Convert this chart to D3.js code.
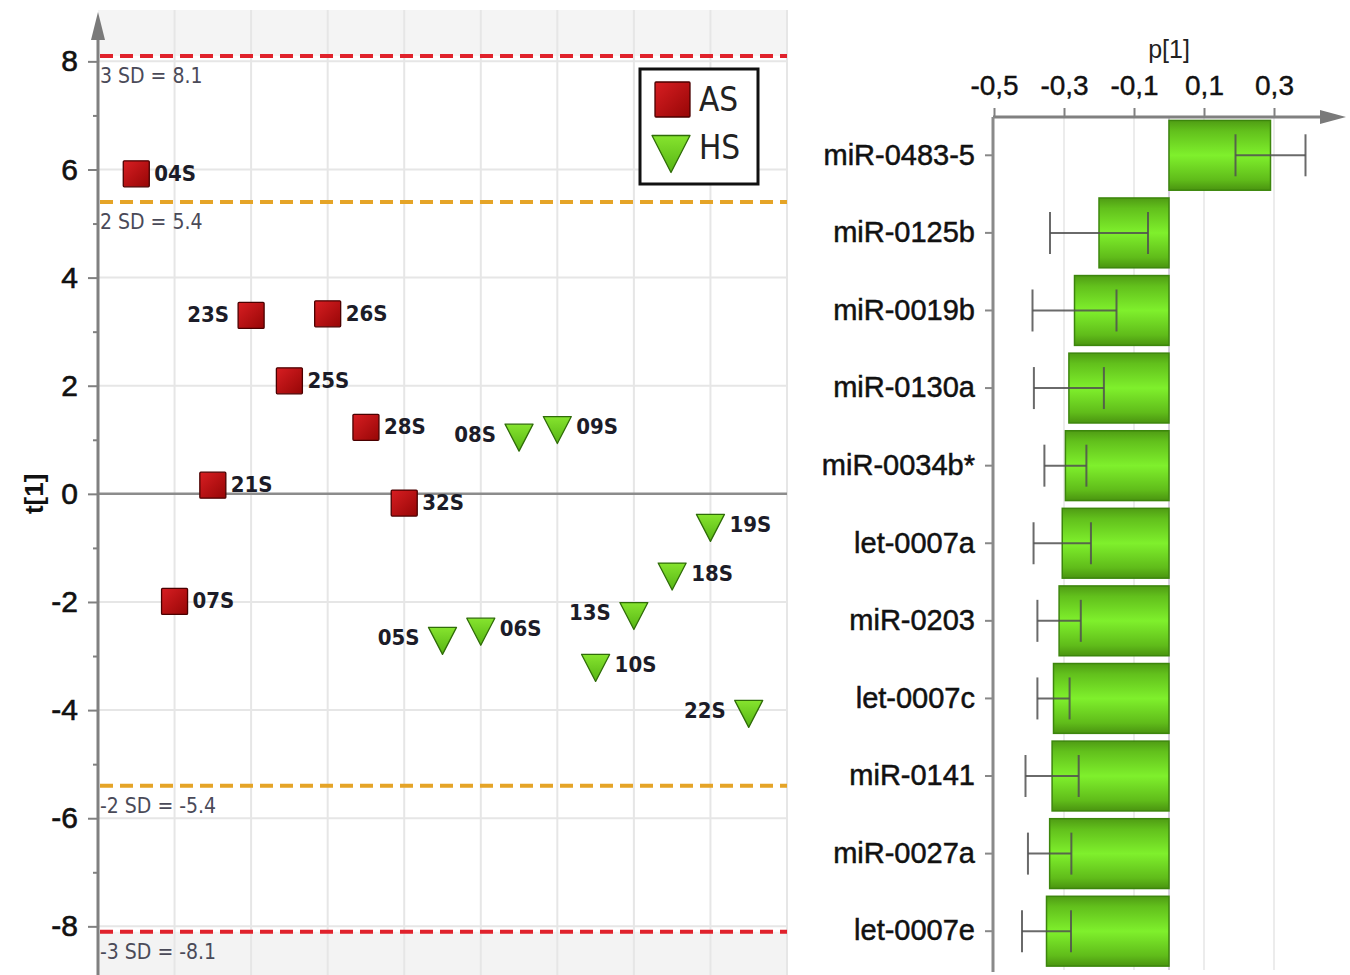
<!DOCTYPE html>
<html>
<head>
<meta charset="utf-8">
<script src="https://cdn.jsdelivr.net/npm/d3@7"></script>
<style>
  html, body { margin: 0; padding: 0; background: #fff; }
  svg { display: block; }
</style>
</head>
<body>
<svg id="chart" width="1350" height="975"></svg>
<script>
// ---- Score plot t[1]: samples in plotting order ----
const asSamples   = ["04S", "07S", "21S", "23S", "25S", "26S", "28S", "32S"];
const asIndex     = [1, 2, 3, 4, 5, 6, 7, 8];
const asScores    = [5.92, -1.99, 0.16, 3.30, 2.09, 3.33, 1.23, -0.17];
const asLabelSide = ["r", "r", "r", "l", "r", "r", "r", "r"];

const hsSamples   = ["05S", "06S", "08S", "09S", "10S", "13S", "18S", "19S", "22S"];
const hsIndex     = [9, 10, 11, 12, 13, 14, 15, 16, 17];
const hsScores    = [-2.72, -2.55, 1.04, 1.18, -3.22, -2.26, -1.53, -0.63, -4.07];
const hsLabelSide = ["l", "r", "l", "r", "r", "l", "r", "r", "l"];

const sdLevels = [8.1, 5.4, -5.4, -8.1];
const sdLabels = ["3 SD = 8.1", "2 SD = 5.4", "-2 SD = -5.4", "-3 SD = -8.1"];
const scoreTicks = [-8, -6, -4, -2, 0, 2, 4, 6, 8];
const scoreMinorTicks = [-7, -5, -3, -1, 1, 3, 5, 7];
const groupNames = ["AS", "HS"];

// ---- Loading plot p[1] ----
const mirnas = ["miR-0483-5", "miR-0125b", "miR-0019b", "miR-0130a", "miR-0034b*",
                "let-0007a", "miR-0203", "let-0007c", "miR-0141", "miR-0027a", "let-0007e"];
const loadings   = [0.29, -0.20, -0.27, -0.286, -0.296, -0.305, -0.314, -0.33, -0.334, -0.341, -0.35];
const loadingCI  = [0.10, 0.14, 0.12, 0.10, 0.06, 0.082, 0.062, 0.046, 0.076, 0.062, 0.07];
const loadingTicks = [-0.5, -0.3, -0.1, 0.1, 0.3];

const svg = d3.select("#chart");
const loc = d3.formatLocale({ decimal: ",", thousands: ".", grouping: [3], currency: ["", ""], minus: "-" });
const fmtP = loc.format(".1f");
const fmtT = loc.format("d");

// ---- gradients ----
const defs = svg.append("defs");
const redGrad = defs.append("linearGradient").attr("id", "redGrad")
  .attr("x1", 0).attr("y1", 0).attr("x2", 1).attr("y2", 1);
redGrad.append("stop").attr("offset", "0%").attr("stop-color", "#d81e22");
redGrad.append("stop").attr("offset", "100%").attr("stop-color", "#960606");

const triGrad = defs.append("linearGradient").attr("id", "triGrad")
  .attr("x1", 0).attr("y1", 0).attr("x2", 0).attr("y2", 1);
triGrad.append("stop").attr("offset", "0%").attr("stop-color", "#86e42e");
triGrad.append("stop").attr("offset", "100%").attr("stop-color", "#56b414");

const barGrad = defs.append("linearGradient").attr("id", "barGrad")
  .attr("x1", 0).attr("y1", 0).attr("x2", 0).attr("y2", 1);
[["0%", "#4f9c14"], ["15%", "#62c01c"], ["50%", "#7ff02c"], ["85%", "#60bc1a"], ["100%", "#4a9410"]]
  .forEach(([o, c]) => barGrad.append("stop").attr("offset", o).attr("stop-color", c));

// =========================== Score plot ===========================
const x = d3.scaleLinear().domain([0, 18]).range([98, 787]);
const y = d3.scaleLinear().domain([-8.9, 8.95]).range([975, 10]);
const left = svg.append("g");

// shaded zones beyond +/- 3 SD
left.append("rect").attr("x", x(0)).attr("y", y(8.95))
  .attr("width", x(18) - x(0)).attr("height", y(8.1) - y(8.95)).attr("fill", "#f4f4f4");
left.append("rect").attr("x", x(0)).attr("y", y(-8.1))
  .attr("width", x(18) - x(0)).attr("height", y(-8.9) - y(-8.1)).attr("fill", "#f3f3f3");

// grid
left.append("g").selectAll("line").data(d3.range(2, 19, 2)).join("line")
  .attr("x1", d => x(d)).attr("x2", d => x(d))
  .attr("y1", y(8.95)).attr("y2", y(-8.9))
  .attr("stroke", "#e6e6e6").attr("stroke-width", 2);
left.append("g").selectAll("line").data(scoreTicks.filter(d => d !== 0)).join("line")
  .attr("x1", x(0)).attr("x2", x(18))
  .attr("y1", d => y(d)).attr("y2", d => y(d))
  .attr("stroke", "#e6e6e6").attr("stroke-width", 2);

// zero line
left.append("line").attr("x1", x(0)).attr("x2", x(18))
  .attr("y1", y(0)).attr("y2", y(0))
  .attr("stroke", "#8c8c8c").attr("stroke-width", 2.5);

// SD limits
left.append("g").selectAll("line").data(sdLevels).join("line")
  .attr("x1", x(0) + 2).attr("x2", x(18))
  .attr("y1", d => y(d)).attr("y2", d => y(d))
  .attr("stroke", d => Math.abs(d) > 7 ? "#e0222c" : "#e5a427")
  .attr("stroke-width", 4).attr("stroke-dasharray", "13,7");
left.append("g").selectAll("text").data(sdLevels).join("text")
  .attr("x", x(0) + 2).attr("y", d => y(d) + 27)
  .attr("font-family", "'DejaVu Sans Condensed', 'DejaVu Sans', sans-serif")
  .attr("font-size", 21).attr("fill", "#4a4a58")
  .text((d, i) => sdLabels[i]);

// y axis
const yAxis = d3.axisLeft(y).tickValues(scoreTicks).tickSize(10).tickPadding(10).tickFormat(fmtT);
const yAxisG = left.append("g").attr("transform", `translate(${x(0)},0)`).call(yAxis);
yAxisG.select(".domain").remove();
yAxisG.selectAll(".tick line").attr("stroke", "#808080").attr("stroke-width", 2);
yAxisG.selectAll(".tick text").attr("font-family", "'Liberation Sans', Arial, sans-serif")
  .attr("font-size", 30).attr("fill", "#111").attr("stroke", "#111").attr("stroke-width", 0.6);
const yMinor = left.append("g").attr("transform", `translate(${x(0)},0)`)
  .call(d3.axisLeft(y).tickValues(scoreMinorTicks).tickSize(5).tickFormat(""));
yMinor.select(".domain").remove();
yMinor.selectAll(".tick line").attr("stroke", "#808080").attr("stroke-width", 2);

left.append("line").attr("x1", x(0)).attr("x2", x(0))
  .attr("y1", 36).attr("y2", 975).attr("stroke", "#808080").attr("stroke-width", 3);
left.append("path").attr("d", `M${x(0)},12 L${x(0) - 7},40 L${x(0) + 7},40 Z`).attr("fill", "#7a7a7a");

left.append("text").attr("transform", `translate(34,${y(0)}) rotate(-90)`)
  .attr("text-anchor", "middle").attr("dy", "0.35em")
  .attr("font-family", "'Liberation Sans', Arial, sans-serif").attr("font-weight", "bold")
  .attr("font-size", 26).attr("fill", "#111").text("t[1]");

const labelFont = "'DejaVu Sans Condensed', 'DejaVu Sans', sans-serif";

// AS samples: squares
const asData = asSamples.map((s, i) => ({ s, i: asIndex[i], v: asScores[i], side: asLabelSide[i] }));
left.append("g").selectAll("rect").data(asData).join("rect")
  .attr("x", d => x(d.i) - 13).attr("y", d => y(d.v) - 13)
  .attr("width", 26).attr("height", 26).attr("rx", 1)
  .attr("fill", "url(#redGrad)").attr("stroke", "#4a0000").attr("stroke-width", 1.3);
left.append("g").selectAll("text").data(asData).join("text")
  .attr("x", d => d.side === "r" ? x(d.i) + 18 : x(d.i) - 22)
  .attr("y", d => y(d.v) + 7)
  .attr("text-anchor", d => d.side === "r" ? "start" : "end")
  .attr("font-family", labelFont).attr("font-weight", "bold")
  .attr("font-size", 22).attr("fill", "#1c1c28").text(d => d.s);

// HS samples: downward triangles
const tri = (w, h) => `M${-w / 2},${-h / 2} L${w / 2},${-h / 2} L0,${h / 2} Z`;
const hsData = hsSamples.map((s, i) => ({ s, i: hsIndex[i], v: hsScores[i], side: hsLabelSide[i] }));
left.append("g").selectAll("path").data(hsData).join("path")
  .attr("transform", d => `translate(${x(d.i)},${y(d.v)})`)
  .attr("d", tri(28, 27))
  .attr("fill", "url(#triGrad)").attr("stroke", "#2f6c08").attr("stroke-width", 1.3)
  .attr("stroke-linejoin", "round");
left.append("g").selectAll("text").data(hsData).join("text")
  .attr("x", d => d.side === "r" ? x(d.i) + 19 : x(d.i) - 23)
  .attr("y", d => y(d.v) + 4)
  .attr("text-anchor", d => d.side === "r" ? "start" : "end")
  .attr("font-family", labelFont).attr("font-weight", "bold")
  .attr("font-size", 22).attr("fill", "#1c1c28").text(d => d.s);

// legend
const lg = left.append("g").attr("transform", "translate(640,69)");
lg.append("rect").attr("width", 118).attr("height", 115)
  .attr("fill", "#fff").attr("stroke", "#111").attr("stroke-width", 3);
lg.append("rect").attr("x", 15).attr("y", 13).attr("width", 35).attr("height", 35).attr("rx", 1)
  .attr("fill", "url(#redGrad)").attr("stroke", "#4a0000").attr("stroke-width", 1.3);
lg.append("path").attr("transform", "translate(31,85)").attr("d", tri(38, 37))
  .attr("fill", "url(#triGrad)").attr("stroke", "#2f6c08").attr("stroke-width", 1.3)
  .attr("stroke-linejoin", "round");
lg.selectAll("text.lab").data(groupNames).join("text").attr("class", "lab")
  .attr("x", 59).attr("y", (d, i) => i === 0 ? 42 : 90)
  .attr("font-family", labelFont).attr("font-size", 33).attr("fill", "#222")
  .text(d => d);

// =========================== Loading plot ===========================
const xr = d3.scaleLinear().domain([-0.5, 0.49]).range([994, 1340.5]);
const yr = d3.scaleBand().domain(mirnas).range([116.5, 970]).paddingInner(0.1).paddingOuter(0.05);
const right = svg.append("g");
const axisY = 117;

// grid
right.append("g").selectAll("line").data(loadingTicks.slice(1).concat([0])).join("line")
  .attr("x1", d => xr(d)).attr("x2", d => xr(d))
  .attr("y1", axisY).attr("y2", 970)
  .attr("stroke", d => d === 0 ? "#d8d0e0" : "#ececec").attr("stroke-width", 2);

// bars
const barData = mirnas.map((m, i) => ({ m, v: loadings[i], ci: loadingCI[i] }));
right.append("g").selectAll("rect").data(barData).join("rect")
  .attr("x", d => Math.min(xr(0), xr(d.v)))
  .attr("y", d => yr(d.m))
  .attr("width", d => Math.abs(xr(d.v) - xr(0)))
  .attr("height", yr.bandwidth())
  .attr("fill", "url(#barGrad)").attr("stroke", "#3c860c").attr("stroke-width", 1.5);

// confidence intervals
const eb = right.append("g").attr("stroke", "#505050").attr("stroke-width", 2).attr("stroke-opacity", 0.85);
const cy = d => yr(d.m) + yr.bandwidth() / 2;
eb.selectAll("line.h").data(barData).join("line").attr("class", "h")
  .attr("x1", d => xr(d.v - d.ci)).attr("x2", d => xr(d.v + d.ci))
  .attr("y1", cy).attr("y2", cy);
eb.selectAll("line.l").data(barData).join("line").attr("class", "l")
  .attr("x1", d => xr(d.v - d.ci)).attr("x2", d => xr(d.v - d.ci))
  .attr("y1", d => cy(d) - 21).attr("y2", d => cy(d) + 21);
eb.selectAll("line.r").data(barData).join("line").attr("class", "r")
  .attr("x1", d => xr(d.v + d.ci)).attr("x2", d => xr(d.v + d.ci))
  .attr("y1", d => cy(d) - 21).attr("y2", d => cy(d) + 21);

// top axis
const xAxisG = right.append("g").attr("transform", `translate(0,${axisY})`)
  .call(d3.axisTop(xr).tickValues(loadingTicks).tickSize(9).tickPadding(13).tickFormat(fmtP));
xAxisG.select(".domain").remove();
xAxisG.selectAll(".tick line").attr("stroke", "#808080").attr("stroke-width", 2);
xAxisG.selectAll(".tick text").attr("font-family", "'Liberation Sans', Arial, sans-serif")
  .attr("font-size", 28).attr("fill", "#111").attr("stroke", "#111").attr("stroke-width", 0.4);
right.append("line").attr("x1", 993).attr("x2", 1324).attr("y1", axisY).attr("y2", axisY)
  .attr("stroke", "#808080").attr("stroke-width", 3);
right.append("path").attr("d", `M1346,${axisY} L1320,${axisY - 7} L1320,${axisY + 7} Z`).attr("fill", "#7a7a7a");
right.append("text").attr("x", xr(0)).attr("y", 58).attr("text-anchor", "middle")
  .attr("font-family", "'Liberation Sans', Arial, sans-serif").attr("font-size", 25)
  .attr("fill", "#222").text("p[1]");

// category axis
const catG = right.append("g").attr("transform", "translate(993,0)")
  .call(d3.axisLeft(yr).tickSize(8).tickPadding(10));
catG.select(".domain").remove();
catG.selectAll(".tick line").attr("stroke", "#888").attr("stroke-width", 2);
catG.selectAll(".tick text").attr("font-family", "'Liberation Sans', Arial, sans-serif")
  .attr("font-size", 29).attr("fill", "#111").attr("stroke", "#111").attr("stroke-width", 0.5);
right.append("line").attr("x1", 993).attr("x2", 993).attr("y1", axisY).attr("y2", 972)
  .attr("stroke", "#8a8a8a").attr("stroke-width", 3);
</script>
</body>
</html>
